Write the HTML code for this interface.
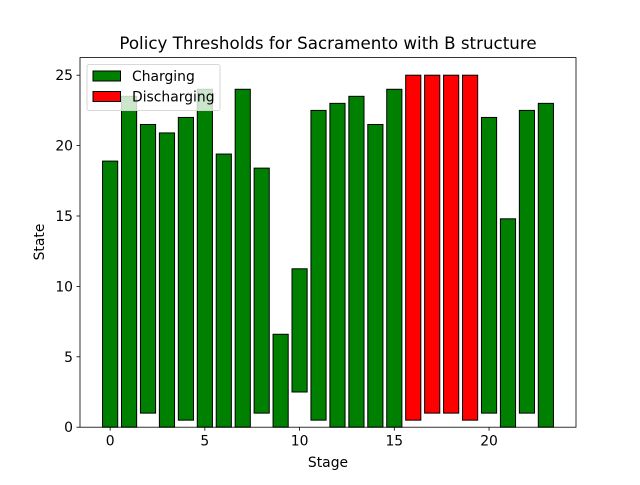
<!DOCTYPE html>
<html><head><meta charset="utf-8"><style>
body{margin:0;background:#fff}
svg text{font-family:"DejaVu Sans","Liberation Sans",sans-serif}
</style></head><body>
<svg id="chart" width="640" height="480" xmlns="http://www.w3.org/2000/svg">
<rect width="640" height="480" fill="#fff"/>
<text x="328" y="49" text-anchor="middle" font-size="16.7">Policy Thresholds for Sacramento with B structure</text>
<g id="bars"></g>
<rect x="80" y="57.6" width="496" height="369.6" fill="none" stroke="#000" stroke-width="0.8"/>
<g id="xticks"></g>
<g id="yticks"></g>
<text x="328" y="467" text-anchor="middle" font-size="13.9">Stage</text>
<text transform="translate(44,242) rotate(-90)" text-anchor="middle" font-size="13.9">State</text>
<g>
<rect x="87" y="64.6" width="133" height="46" rx="2" fill="#fff" fill-opacity="0.8" stroke="#ccc" stroke-width="0.8"/>
<g><rect x="93" y="71" width="27.5" height="10" fill="green" stroke="#000"/><text x="132" y="81" font-size="13.9">Charging</text></g>
<g><rect x="93" y="91.5" width="27.5" height="10" fill="red" stroke="#000"/><text x="132" y="101.5" font-size="13.9">Discharging</text></g>
</g>
</svg>
<script>
const stages=[0,1,2,3,4,5,6,7,8,9,10,11,12,13,14,15,16,17,18,19,20,21,22,23];
const bottoms=[0,0,1,0,0.5,0,0,0,1,0,2.5,0.5,0,0,0,0,0.5,1,1,0.5,1,0,1,0];
const tops=[18.9,23.5,21.5,20.9,22,24,19.4,24,18.4,6.6,11.25,22.5,23,23.5,21.5,24,25,25,25,25,22,14.8,22.5,23];
const kinds=["c","c","c","c","c","c","c","c","c","c","c","c","c","c","c","c","d","d","d","d","c","c","c","c"];
const xTicks=[0,5,10,15,20];
const yTicks=[0,5,10,15,20,25];
const NS="http://www.w3.org/2000/svg";
const L=80,R=576,T=57.6,B=427.2,xmin=-1.59,xmax=24.59,ymin=0,ymax=26.25;
const xs=v=>L+(v-xmin)/(xmax-xmin)*(R-L);
const ys=v=>B-(v-ymin)/(ymax-ymin)*(B-T);
const bars=document.getElementById('bars');
stages.forEach((s,i)=>{
 const r=document.createElementNS(NS,'rect');
 const x0=xs(s-0.4),x1=xs(s+0.4);
 r.setAttribute('x',x0);r.setAttribute('width',x1-x0);
 r.setAttribute('y',ys(tops[i]));r.setAttribute('height',ys(bottoms[i])-ys(tops[i]));
 r.setAttribute('fill',kinds[i]==='d'?'red':'green');r.setAttribute('stroke','#000');
 
 
 bars.appendChild(r);
});
const xt=document.getElementById('xticks');
xTicks.forEach(v=>{
 const l=document.createElementNS(NS,'line');
 l.setAttribute('x1',xs(v));l.setAttribute('x2',xs(v));l.setAttribute('y1',B);l.setAttribute('y2',B+3.5);l.setAttribute('stroke','#000');l.setAttribute('stroke-width','0.8');
 
 
 xt.appendChild(l);
 const t=document.createElementNS(NS,'text');
 t.setAttribute('x',xs(v));t.setAttribute('y',B+18.5);t.setAttribute('text-anchor','middle');t.setAttribute('font-size','13.9');t.textContent=v;
 
 
 xt.appendChild(t);
});
const yt=document.getElementById('yticks');
yTicks.forEach(v=>{
 const l=document.createElementNS(NS,'line');
 l.setAttribute('x1',L-3.5);l.setAttribute('x2',L);l.setAttribute('y1',ys(v));l.setAttribute('y2',ys(v));l.setAttribute('stroke','#000');l.setAttribute('stroke-width','0.8');
 
 
 yt.appendChild(l);
 const t=document.createElementNS(NS,'text');
 t.setAttribute('x',L-7);t.setAttribute('y',ys(v)+5);t.setAttribute('text-anchor','end');t.setAttribute('font-size','13.9');t.textContent=v;
 
 
 yt.appendChild(t);
});
</script>
</body></html>
